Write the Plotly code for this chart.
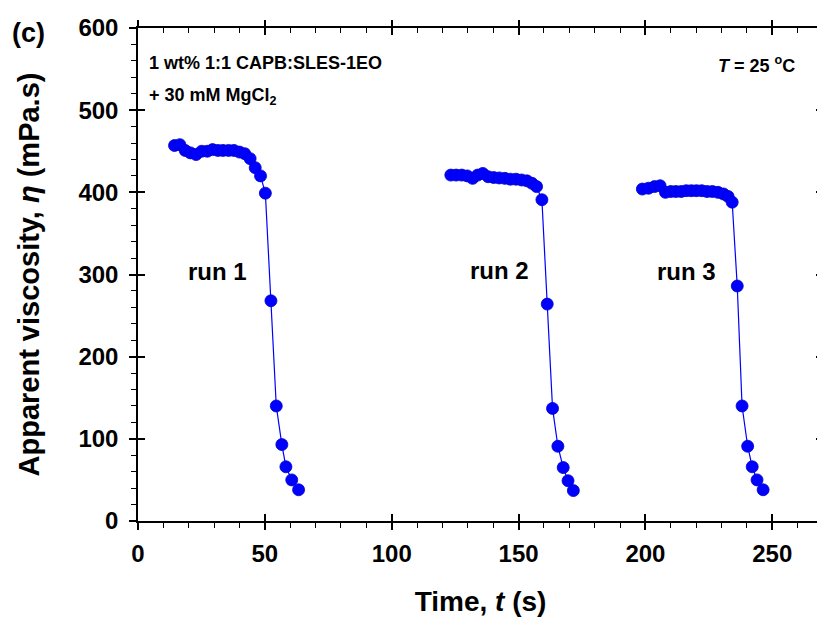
import plotly.graph_objects as go

# Apparent viscosity vs time, three runs
t_run1 = [14.4, 16.5, 18.6, 20.7, 22.9, 25.1, 27.3, 29.4, 31.5, 33.5, 35.7, 37.8,
          40.0, 42.1, 44.2, 46.2, 48.3, 50.2, 52.4, 54.5, 56.7, 58.3, 60.6, 63.3]
eta_run1 = [457, 458, 451, 448, 446, 450, 450, 452, 451, 451, 451, 451,
            449, 447, 441, 430, 420, 399, 268, 140, 93, 66, 50, 38]

t_run2 = [123.3, 125.4, 127.6, 129.8, 131.9, 133.9, 135.9, 138.0, 140.2, 142.4, 144.6, 146.8,
          149.0, 151.2, 153.3, 155.3, 157.1, 159.2, 161.3, 163.4, 165.5, 167.6, 169.5, 171.6]
eta_run2 = [421, 421, 421, 420, 417, 421, 423, 419, 418, 417.5, 417, 416,
            416, 415, 414, 411, 407, 391, 264, 137, 91, 65, 49, 37]

t_run3 = [198.8, 201.2, 203.6, 205.8, 207.9, 210.0, 212.0, 214.1, 216.1, 218.1, 220.1, 222.2,
          224.3, 226.4, 228.6, 230.8, 232.6, 234.2, 236.2, 238.1, 240.3, 242.1, 244.0, 246.4]
eta_run3 = [404, 405, 407, 408, 400, 401, 401, 401, 402, 402, 402, 402,
            401, 401, 400, 398, 395, 388, 286, 140, 91, 66, 50, 38]

runs = [(t_run1, eta_run1), (t_run2, eta_run2), (t_run3, eta_run3)]
run_labels = ["run 1", "run 2", "run 3"]
label_pos = [(31.5, 304), (142.5, 305), (216, 304)]

x_range = [0, 270]
y_range = [0, 600]

FONT = "Liberation Sans, Arial, sans-serif"
BLUE = "#0000ff"

fig = go.Figure()

for t, eta in runs:
    fig.add_trace(go.Scatter(
        x=t, y=eta, mode="lines+markers", showlegend=False,
        line=dict(color=BLUE, width=1.2),
        marker=dict(color=BLUE, size=12, line=dict(color="#0000c8", width=0.8))))

# empty traces so the overlay axes (tick marks only) get drawn
for i in (2, 3, 4):
    fig.add_trace(go.Scatter(x=[], y=[], xaxis=f"x{i}", yaxis=f"y{i}",
                             showlegend=False, hoverinfo="skip"))

tickfont = dict(family=FONT, size=24, color="black", weight="bold")
base = dict(showgrid=False, zeroline=False, linecolor="black", linewidth=1.5,
            tickcolor="black", tickwidth=1.5, ticklen=7, automargin=False)
minor_out = dict(ticks="outside", ticklen=5, tickcolor="black", tickwidth=1.2)
minor_in = dict(ticks="inside", ticklen=5, tickcolor="black", tickwidth=1.2)

# the page body adds an 8px offset, so the figure is a bit smaller than the window
fig.update_layout(
    width=817, height=615,
    margin=dict(l=130, r=2, t=20, b=102),
    paper_bgcolor="white", plot_bgcolor="white",
    font=dict(family=FONT, color="black"),
    xaxis=dict(**base, range=x_range, dtick=50, ticks="outside", showline=True,
               minor=dict(dtick=10, **minor_out),
               tickfont=tickfont, tickformat="d", ticklabelstandoff=3,
               title=dict(text="<b>Time, <i>t</i> (s)</b>", font=dict(family=FONT, size=28),
                          standoff=26)),
    yaxis=dict(**base, range=y_range, dtick=100, ticks="outside", showline=True,
               minor=dict(dtick=20, **minor_out),
               tickfont=tickfont, tickformat="d", ticklabelstandoff=6,
               title=dict(text="<b>Apparent viscosity, <i>η</i> (mPa.s)</b>",
                          font=dict(family=FONT, size=29), standoff=30)),
    # inner half of the crossing major ticks, bottom / left
    xaxis2=dict(**base, range=x_range, dtick=50, ticks="inside", showline=False,
                overlaying="x", side="bottom", anchor="y2", showticklabels=False),
    yaxis2=dict(**base, range=y_range, dtick=100, ticks="inside", showline=False,
                overlaying="y", side="left", anchor="x2", showticklabels=False),
    # top / right frame: inside major + minor ticks
    xaxis3=dict(**base, range=x_range, dtick=50, ticks="inside", showline=True,
                minor=dict(dtick=10, **minor_in),
                overlaying="x", side="top", anchor="y3", showticklabels=False),
    yaxis3=dict(**base, range=y_range, dtick=100, ticks="inside", showline=True,
                minor=dict(dtick=20, **minor_in),
                overlaying="y", side="right", anchor="x3", showticklabels=False),
    # outer half of the crossing major ticks on top
    xaxis4=dict(**base, range=x_range, dtick=50, ticks="outside", showline=False,
                overlaying="x", side="top", anchor="y4", showticklabels=False),
    yaxis4=dict(**base, range=y_range, dtick=100, ticks="inside", showline=False,
                overlaying="y", side="right", anchor="x4", showticklabels=False),
)

annfont = dict(family=FONT, size=18, color="black")
for text, (x, y) in zip(run_labels, label_pos):
    fig.add_annotation(x=x, y=y, text=f"<b>{text}</b>", showarrow=False,
                       font=dict(family=FONT, size=24, color="black"))

fig.add_annotation(xref="paper", yref="paper", x=0.013, y=0.930, xanchor="left", yanchor="middle",
                   showarrow=False, font=annfont, text="<b>1 wt% 1:1 CAPB:SLES-1EO</b>")
fig.add_annotation(xref="paper", yref="paper", x=0.013, y=0.862, xanchor="left", yanchor="middle",
                   showarrow=False, font=annfont, text="<b>+ 30 mM MgCl<sub>2</sub></b>")
fig.add_annotation(xref="paper", yref="paper", x=0.962, y=0.926, xanchor="right", yanchor="middle",
                   showarrow=False, font=annfont,
                   text="<b><i>T</i> = 25 <sup>o</sup>C</b>")
fig.add_annotation(xref="paper", yref="paper", x=-0.187, y=0.99, xanchor="left", yanchor="middle",
                   showarrow=False, font=dict(family=FONT, size=27, color="black"),
                   text="<b>(c)</b>")

fig.write_html("out.html")
